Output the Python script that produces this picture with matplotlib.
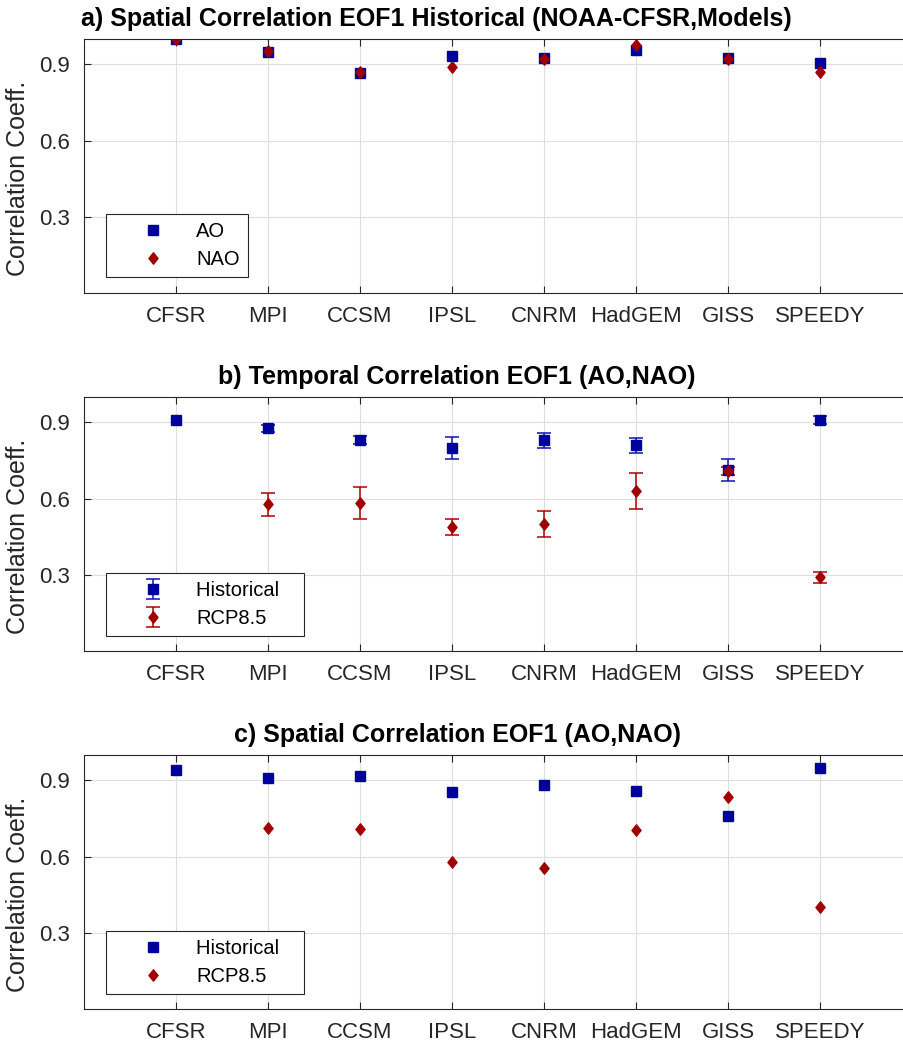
import numpy as np
import matplotlib
matplotlib.use('Agg')
from matplotlib import pyplot as plt
from matplotlib.path import Path

plt.rcParams['font.family'] = ['Liberation Sans', 'DejaVu Sans']

models = ['CFSR', 'MPI', 'CCSM', 'IPSL', 'CNRM', 'HadGEM', 'GISS', 'SPEEDY']
yticks = [0.3, 0.6, 0.9]

# a) spatial correlation, historical
ao_spatial = [1.0, 0.95, 0.865, 0.935, 0.925, 0.955, 0.925, 0.905]
nao_spatial = [1.0, 0.952, 0.872, 0.89, 0.922, 0.975, 0.921, 0.871]

# b) temporal correlation (mean and half range)
temp_hist = [0.909, 0.876, 0.829, 0.799, 0.83, 0.81, 0.711, 0.909]
temp_hist_err = [np.nan, 0.015, 0.016, 0.045, 0.03, 0.029, 0.043, 0.015]
temp_rcp = [np.nan, 0.578, 0.582, 0.488, 0.50, 0.63, 0.709, 0.29]
temp_rcp_err = [np.nan, 0.046, 0.064, 0.032, 0.05, 0.069, 0.015, 0.021]

# c) spatial correlation
spat_hist = [0.939, 0.910, 0.917, 0.853, 0.883, 0.858, 0.759, 0.947]
spat_rcp = [np.nan, 0.711, 0.708, 0.58, 0.557, 0.706, 0.835, 0.40]

blue = '#00009c'
blue_bar = '#1010b8'
red = '#a00000'
red_bar = '#b00000'
dark = '#262626'

diamond = Path([(0, 1), (0.8, 0), (0, -1), (-0.8, 0), (0, 1)],
               [Path.MOVETO, Path.LINETO, Path.LINETO, Path.LINETO, Path.CLOSEPOLY])

x = np.arange(1, len(models) + 1)

fig = plt.figure(figsize=(9.04, 10.44), dpi=100)
# axes run past the right edge of the figure, as in the original crop
xmax = 9.3
left = 84 / 904
width = xmax * 92 / 904
height = 254 / 1044
bottoms = [1 - 293 / 1044, 1 - 651 / 1044, 1 - 1009 / 1044]
titles = ['a) Spatial Correlation EOF1 Historical (NOAA-CFSR,Models)',
          'b) Temporal Correlation EOF1 (AO,NAO)',
          'c) Spatial Correlation EOF1 (AO,NAO)']
title_px = [436, 457, 458]

axes = []
for i in range(3):
    ax = fig.add_axes([left, bottoms[i], width, height])
    ax.set_xlim(0, xmax)
    ax.set_ylim(0, 1)
    ax.set_xticks(x)
    ax.set_xticklabels(models)
    ax.set_yticks(yticks)
    ax.set_yticklabels(['0.3', '0.6', '0.9'])
    ax.grid(True, color='#dedede', linewidth=0.8)
    ax.set_axisbelow(True)
    ax.tick_params(direction='in', top=True, right=False, length=5.3, width=0.8,
                   colors=dark, labelsize=16)
    ax.tick_params(axis='x', pad=9.5)
    ax.tick_params(axis='y', pad=10)
    for s in ax.spines.values():
        s.set_color(dark)
        s.set_linewidth(0.8)
    ax.set_title(titles[i], fontsize=18, fontweight='bold',
                 x=(title_px[i] - 84) / (xmax * 92), pad=9.5)
    fig.text(18 / 904, bottoms[i] + height / 2 - 12 / 1044, 'Correlation Coeff.',
             rotation=90, ha='center', va='center', fontsize=18, color=dark)
    axes.append(ax)

# panel a
ax = axes[0]
h1, = ax.plot(x, ao_spatial, ls='none', marker='s', ms=7.2, color=blue, mec=blue)
h2, = ax.plot(x, nao_spatial, ls='none', marker=diamond, ms=8.2, color=red, mec=red)
hs_a = [h1, h2]
labels_a = ['AO', 'NAO']

# panel b
ax = axes[1]
e1 = ax.errorbar(x, temp_hist, yerr=temp_hist_err, fmt='s', ms=7.0, color=blue,
                 mec=blue, ecolor=blue_bar, elinewidth=1.1, capsize=5.3, capthick=1.1)
e2 = ax.errorbar(x, temp_rcp, yerr=temp_rcp_err, fmt='', marker=diamond, ls='none',
                 ms=8.2, color=red, mec=red, ecolor=red_bar, elinewidth=1.1,
                 capsize=5.3, capthick=1.1)
hs_b = [e1, e2]

# panel c
ax = axes[2]
c1, = ax.plot(x, spat_hist, ls='none', marker='s', ms=7.2, color=blue, mec=blue)
c2, = ax.plot(x, spat_rcp, ls='none', marker=diamond, ms=8.2, color=red, mec=red)
hs_c = [c1, c2]

scen_labels = ['Historical   ', 'RCP8.5']
leg_labels = [labels_a, scen_labels, scen_labels]
leg_handles = [hs_a, hs_b, hs_c]
leg_y = [16 / 254, 15 / 255, 15 / 255]
for i, ax in enumerate(axes):
    leg = ax.legend(leg_handles[i], leg_labels[i], loc='lower left',
                    bbox_to_anchor=((106 - 84) / (xmax * 92), leg_y[i]),
                    borderaxespad=0, fontsize=14.5, frameon=True, fancybox=False,
                    framealpha=1, borderpad=0.4, handlelength=3.88,
                    handletextpad=0.2, labelspacing=0.45, numpoints=1)
    leg.get_frame().set_edgecolor(dark)
    leg.get_frame().set_linewidth(0.8)

fig.savefig('out.png', dpi=100)
